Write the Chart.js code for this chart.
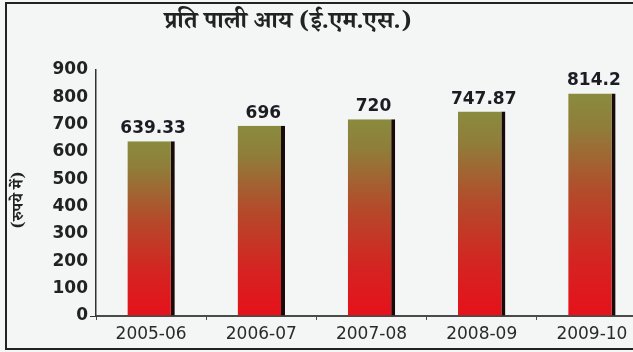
<!DOCTYPE html>
<html>
<head>
<meta charset="utf-8">
<script src="https://cdn.jsdelivr.net/npm/chart.js@4.4.1/dist/chart.umd.min.js"></script>
<style>
  html, body { margin: 0; padding: 0; background: #f4f5f5; }
  #wrap { position: relative; width: 633px; height: 352px; overflow: hidden; background: #f4f5f5; }
  #frame { position: absolute; left: 5px; top: 2px; width: 700px; height: 344px; border: 2px solid #222; pointer-events: none; }
  #c { position: absolute; left: 0; top: 0; }
</style>
</head>
<body>
<div id="wrap">
  <canvas id="c" width="655" height="352"></canvas>
  <div id="frame"></div>
</div>
<script>
// data
var years = ['2005-06', '2006-07', '2007-08', '2008-09', '2009-10'];
var income = [639.33, 696, 720, 747.87, 814.2];
var valueLabels = ['639.33', '696', '720', '747.87', '814.2'];
var yTicks = [0, 100, 200, 300, 400, 500, 600, 700, 800, 900];

var chartTitle = 'प्रति पाली आय (ई.एम.एस.)';
var yTitle = '(रुपये में)';

var hindiFont = '"Noto Serif Devanagari", "Noto Sans Devanagari", "Lohit Devanagari", serif';
var numFont = '"DejaVu Sans", Arial, sans-serif';

// each bar gets its own gradient: olive at top, red at the bottom
function barGradient(context) {
  var chart = context.chart;
  if (!chart.chartArea || !chart.scales.y) return '#c8301f';
  var y = chart.scales.y;
  var top = y.getPixelForValue(context.raw);
  var bottom = y.getPixelForValue(0);
  var g = chart.ctx.createLinearGradient(0, top, 0, bottom);
  g.addColorStop(0, '#8a8b3e');
  g.addColorStop(0.15, '#8f7e3a');
  g.addColorStop(0.45, '#b44a2a');
  g.addColorStop(0.75, '#d42421');
  g.addColorStop(1, '#e6111b');
  return g;
}

var textPlugin = {
  id: 'texts',
  afterDatasetsDraw: function(chart) {
    var ctx = chart.ctx;
    ctx.save();
    // numbers above the bars
    ctx.fillStyle = '#1c1c22';
    ctx.font = 'bold 17px ' + numFont;
    ctx.textAlign = 'center';
    ctx.textBaseline = 'bottom';
    var meta = chart.getDatasetMeta(0);
    meta.data.forEach(function(bar, i) {
      ctx.fillText(valueLabels[i], bar.x + 2, bar.y - 4);
    });

    // title
    ctx.fillStyle = '#222';
    ctx.font = 'bold 24px ' + hindiFont;
    ctx.textBaseline = 'middle';
    ctx.fillText(chartTitle, 288, 26);

    // y axis title, turned
    ctx.translate(21, 200);
    ctx.rotate(-Math.PI / 2);
    ctx.font = 'bold 16px ' + hindiFont;
    ctx.fillText(yTitle, 0, 0);
    ctx.restore();
  }
};

new Chart(document.getElementById('c'), {
  type: 'bar',
  data: {
    labels: years,
    datasets: [{
      data: income,
      backgroundColor: barGradient,
      borderColor: '#1a0b0b',
      borderWidth: { top: 0, right: 4, bottom: 0, left: 0 },
      borderSkipped: false,
      barPercentage: 0.43,
      categoryPercentage: 1
    }]
  },
  options: {
    responsive: false,
    animation: false,
    events: [],
    layout: { padding: { top: 70, right: 8, left: 0, bottom: 0 } },
    plugins: { legend: { display: false }, tooltip: { enabled: false }, title: { display: false } },
    scales: {
      x: {
        offset: true,
        afterFit: function(s) { s.height = 36; },
        border: { display: true, color: '#4a4a4a', width: 2 },
        grid: { display: true, drawOnChartArea: false, tickLength: 4, color: '#4a4a4a', offset: true },
        ticks: { color: '#2a2a2a', padding: 4, font: { family: numFont, size: 17 } }
      },
      y: {
        min: 0,
        max: 900,
        afterFit: function(s) { s.width = 96; },
        afterBuildTicks: function(s) { s.ticks = yTicks.map(function(v) { return { value: v }; }); },
        border: { display: true, color: '#333', width: 1.5 },
        grid: {
          drawOnChartArea: false,
          tickLength: 6,
          color: function(c) { return c.tick && c.tick.value === 0 ? '#333' : 'rgba(0,0,0,0)'; }
        },
        ticks: { color: '#222', padding: 2, font: { family: numFont, size: 17, weight: 'bold' } }
      }
    }
  },
  plugins: [textPlugin]
});
</script>
</body>
</html>
